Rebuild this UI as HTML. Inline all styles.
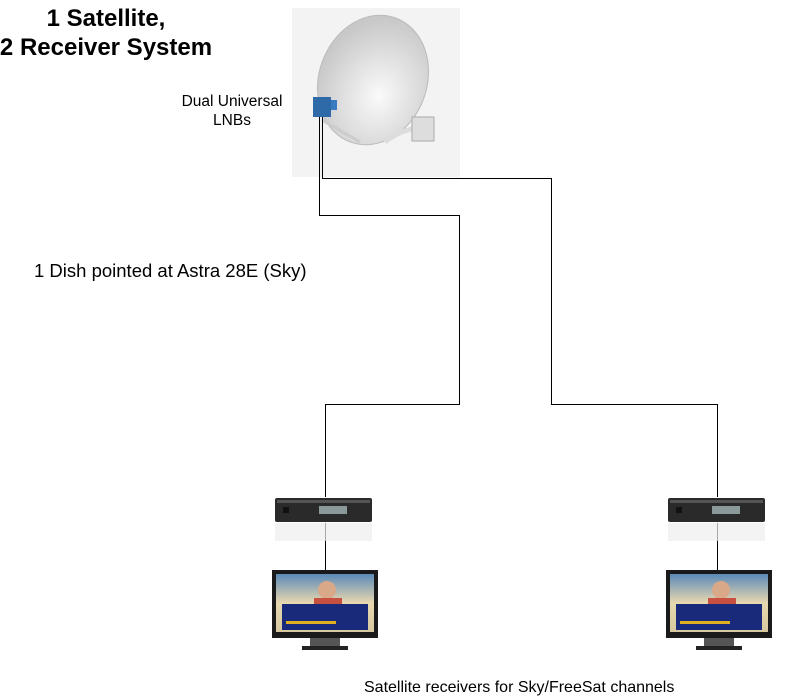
<!DOCTYPE html>
<html><head><style>
body{margin:0;width:799px;height:698px;background:#fff;position:relative;overflow:hidden;font-family:"Liberation Sans",sans-serif}
.t{position:absolute;color:#000;white-space:nowrap}
</style></head><body>
<div class="t" style="left:-14px;top:4px;width:240px;text-align:center;font-weight:bold;font-size:24px;line-height:29px">1 Satellite,<br>2 Receiver System</div>
<div class="t" style="left:170px;top:92px;width:124px;text-align:center;font-size:15.5px;line-height:19px">Dual Universal<br>LNBs</div>
<div class="t" style="left:34px;top:260px;font-size:18.5px">1 Dish pointed at Astra 28E (Sky)</div>
<div class="t" style="left:364px;top:679px;font-size:16px">Satellite receivers for Sky/FreeSat channels</div>
<svg width="799" height="698" style="position:absolute;left:0;top:0">
<defs>
<radialGradient id="d" cx="0.6" cy="0.6" r="0.6"><stop offset="0" stop-color="#fafafa"/><stop offset="1" stop-color="#c8c8c8"/></radialGradient>
<linearGradient id="sc" x1="0" y1="0" x2="0" y2="1"><stop offset="0" stop-color="#5a8ab8"/><stop offset="0.5" stop-color="#e8d8b0"/><stop offset="1" stop-color="#d8c8a0"/></linearGradient>
<g id="rx"><rect x="0" y="0" width="97" height="24" rx="2" fill="#2a2a2a"/><rect x="2" y="2" width="93" height="3" fill="#555"/><rect x="44" y="8" width="28" height="8" fill="#8a9a9a"/><rect x="8" y="9" width="6" height="6" fill="#111"/><rect x="0" y="25" width="97" height="18" fill="#eee" opacity="0.7"/></g>
<g id="tv"><rect x="0" y="0" width="106" height="68" fill="#1a1a1a"/><rect x="4" y="4" width="98" height="58" fill="url(#sc)"/><circle cx="55" cy="20" r="9" fill="#d8a888"/><rect x="42" y="28" width="28" height="14" fill="#c85040"/><rect x="10" y="34" width="86" height="26" fill="#1a2a7a"/><rect x="14" y="51" width="50" height="3" fill="#e0b020"/><rect x="38" y="68" width="30" height="8" fill="#555"/><rect x="30" y="76" width="46" height="4" fill="#222"/></g>
</defs>
<rect x="292" y="8" width="168" height="169" fill="#f3f3f3"/>
<ellipse cx="373" cy="80" rx="54" ry="66" transform="rotate(20 373 80)" fill="url(#d)" stroke="#bbb"/>
<path d="M385 142 Q400 130 418 128" stroke="#ddd" stroke-width="5" fill="none"/>
<rect x="412" y="117" width="22" height="24" fill="#ddd" stroke="#aaa"/>
<path d="M322 120 L360 142" stroke="#ccc" stroke-width="3"/>
<rect x="313" y="97" width="18" height="20" fill="#2f6aa8"/>
<rect x="331" y="100" width="6" height="10" fill="#3a7ac0"/>
<g fill="none" stroke="#000" stroke-width="1">
<path d="M319.5 117 V215.5 H459.5 V404.5 H325.5 V497"/>
<path d="M322.5 117 V178.5 H551.5 V404.5 H717.5 V497"/>
<path d="M325.5 523 V570"/>
<path d="M717.5 523 V570"/>
</g>
<use href="#rx" x="275" y="498"/>
<use href="#rx" x="668" y="498"/>
<use href="#tv" x="272" y="570"/>
<use href="#tv" x="666" y="570"/>
</svg>
</body></html>
